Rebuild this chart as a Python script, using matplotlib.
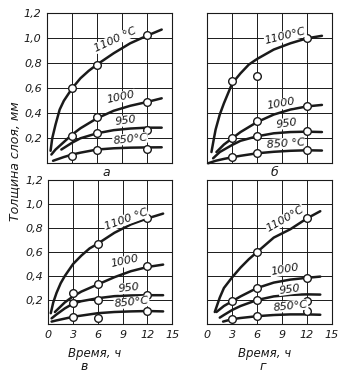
import numpy as np
import matplotlib
matplotlib.use("Agg")
import matplotlib.pyplot as plt

plt.rcParams["font.family"] = ["Liberation Sans Narrow", "DejaVu Sans"]
plt.rcParams["font.style"] = "italic"

# time, h
x_ticks = [0, 3, 6, 9, 12, 15]
y_ticks = [0.2, 0.4, 0.6, 0.8, 1.0, 1.2]

# panel "а"
a_1100_t = [0.4, 0.6, 1.0, 1.5, 2.0, 3.0, 4.0, 5.0, 6.0, 8.0, 10.0, 12.0, 13.8]
a_1100_v = [0.10, 0.20, 0.31, 0.43, 0.50, 0.60, 0.68, 0.74, 0.79, 0.88, 0.96, 1.02, 1.07]
a_1000_t = [0.5, 1.0, 2.0, 3.0, 4.0, 6.0, 8.0, 10.0, 12.0, 13.8]
a_1000_v = [0.07, 0.11, 0.17, 0.23, 0.28, 0.36, 0.42, 0.46, 0.49, 0.52]
a_950_t = [1.7, 3.0, 4.0, 6.0, 8.0, 10.0, 12.0, 13.8]
a_950_v = [0.11, 0.165, 0.20, 0.24, 0.265, 0.278, 0.285, 0.285]
a_850_t = [0.7, 2.0, 3.0, 4.0, 6.0, 8.0, 10.0, 12.0, 13.8]
a_850_v = [0.02, 0.05, 0.07, 0.085, 0.11, 0.12, 0.125, 0.127, 0.128]
a_pts_t = [3, 6, 12, 3, 6, 12, 6, 12, 3, 6, 12]
a_pts_v = [0.60, 0.79, 1.03, 0.22, 0.37, 0.49, 0.24, 0.265, 0.06, 0.11, 0.115]

# panel "б"
b_1100_t = [0.5, 0.8, 1.0, 1.5, 2.0, 3.0, 4.0, 5.0, 6.0, 8.0, 10.0, 12.0, 13.8]
b_1100_v = [0.09, 0.20, 0.27, 0.39, 0.48, 0.64, 0.72, 0.79, 0.835, 0.91, 0.96, 1.00, 1.02]
b_1000_t = [1.1, 2.0, 3.0, 4.0, 6.0, 8.0, 10.0, 12.0, 13.8]
b_1000_v = [0.09, 0.15, 0.20, 0.25, 0.33, 0.39, 0.43, 0.455, 0.467]
b_950_t = [0.7, 1.5, 3.0, 4.0, 6.0, 8.0, 10.0, 12.0, 13.8]
b_950_v = [0.04, 0.09, 0.147, 0.18, 0.216, 0.24, 0.25, 0.253, 0.25]
b_850_t = [0.1, 1.0, 2.0, 3.0, 4.0, 6.0, 8.0, 10.0, 12.0, 13.8]
b_850_v = [0.0, 0.02, 0.035, 0.048, 0.06, 0.08, 0.092, 0.10, 0.104, 0.102]
b_pts_t = [3, 6, 12, 3, 6, 12, 6, 12, 3, 6, 12]
b_pts_v = [0.66, 0.70, 1.00, 0.20, 0.34, 0.456, 0.22, 0.255, 0.05, 0.08, 0.105]

# panel "в"
c_1100_t = [0.3, 0.6, 1.0, 1.5, 2.0, 3.0, 4.0, 5.0, 6.0, 8.0, 10.0, 12.0, 13.9]
c_1100_v = [0.09, 0.18, 0.26, 0.34, 0.40, 0.50, 0.57, 0.63, 0.67, 0.76, 0.83, 0.88, 0.92]
c_1000_t = [0.8, 2.0, 3.0, 4.0, 6.0, 8.0, 10.0, 12.0, 13.9]
c_1000_v = [0.10, 0.18, 0.23, 0.27, 0.33, 0.39, 0.44, 0.475, 0.495]
c_950_t = [0.4, 1.0, 2.0, 3.0, 4.0, 6.0, 8.0, 10.0, 12.0, 13.9]
c_950_v = [0.047, 0.08, 0.13, 0.17, 0.19, 0.215, 0.232, 0.238, 0.24, 0.24]
c_850_t = [0.4, 1.0, 2.0, 3.0, 4.0, 6.0, 8.0, 10.0, 12.0, 13.9]
c_850_v = [0.02, 0.03, 0.045, 0.06, 0.07, 0.09, 0.10, 0.105, 0.108, 0.105]
c_pts_t = [6, 12, 3, 6, 12, 3, 6, 12, 3, 6, 12]
c_pts_v = [0.665, 0.88, 0.255, 0.33, 0.48, 0.178, 0.20, 0.24, 0.06, 0.053, 0.11]

# panel "г"
d_1100_t = [0.9, 1.5, 2.0, 3.0, 4.0, 5.0, 6.0, 8.0, 10.0, 12.0, 13.6]
d_1100_v = [0.10, 0.22, 0.30, 0.39, 0.47, 0.54, 0.60, 0.72, 0.79, 0.88, 0.94]
d_1000_t = [1.1, 2.0, 3.0, 4.0, 6.0, 8.0, 10.0, 12.0, 13.6]
d_1000_v = [0.10, 0.15, 0.19, 0.23, 0.30, 0.345, 0.37, 0.385, 0.395]
d_950_t = [1.5, 2.0, 3.0, 4.0, 6.0, 8.0, 10.0, 12.0, 13.6]
d_950_v = [0.053, 0.075, 0.117, 0.15, 0.20, 0.23, 0.243, 0.247, 0.245]
d_850_t = [1.9, 3.0, 4.0, 6.0, 8.0, 10.0, 12.0, 13.6]
d_850_v = [0.02, 0.04, 0.05, 0.065, 0.075, 0.08, 0.08, 0.077]
d_pts_t = [6, 12, 3, 6, 12, 6, 12, 3, 6, 12]
d_pts_v = [0.60, 0.88, 0.19, 0.30, 0.385, 0.20, 0.19, 0.04, 0.07, 0.105]

panels = [
    {
        "rect": [0.135, 0.5634, 0.3554, 0.401], "letter": "а", "bottom": False,
        "letter_x": 0.303,
        "curves": [(a_1100_t, a_1100_v), (a_1000_t, a_1000_v), (a_950_t, a_950_v), (a_850_t, a_850_v)],
        "pts": (a_pts_t, a_pts_v),
        "labels": [("1100 °C", 8.2, 0.99, 25), ("1000", 8.9, 0.53, 12),
                   ("950", 9.4, 0.34, 8), ("850°C", 10.0, 0.195, 6)],
    },
    {
        "rect": [0.5923, 0.5634, 0.356, 0.401], "letter": "б", "bottom": False,
        "letter_x": 0.783,
        "curves": [(b_1100_t, b_1100_v), (b_1000_t, b_1000_v), (b_950_t, b_950_v), (b_850_t, b_850_v)],
        "pts": (b_pts_t, b_pts_v),
        "labels": [("1100°C", 9.4, 1.016, 14), ("1000", 8.9, 0.475, 10),
                   ("950", 9.6, 0.32, 8), ("850 °C", 9.4, 0.16, 4)],
    },
    {
        "rect": [0.138, 0.1337, 0.354, 0.385], "letter": "в", "bottom": True,
        "letter_x": 0.24, "title_x": 0.27,
        "curves": [(c_1100_t, c_1100_v), (c_1000_t, c_1000_v), (c_950_t, c_950_v), (c_850_t, c_850_v)],
        "pts": (c_pts_t, c_pts_v),
        "labels": [("1100 °C", 9.4, 0.87, 20), ("1000", 9.3, 0.52, 12),
                   ("950", 9.8, 0.30, 6), ("850°C", 10.1, 0.18, 6)],
    },
    {
        "rect": [0.5923, 0.1337, 0.356, 0.385], "letter": "г", "bottom": True,
        "letter_x": 0.752, "title_x": 0.757,
        "curves": [(d_1100_t, d_1100_v), (d_1000_t, d_1000_v), (d_950_t, d_950_v), (d_850_t, d_850_v)],
        "pts": (d_pts_t, d_pts_v),
        "labels": [("1100°C", 9.4, 0.875, 30), ("1000", 9.3, 0.45, 10),
                   ("950", 9.9, 0.29, 8), ("850°C", 10.0, 0.15, 6)],
    },
]

ink = "#1a1a1a"
fig = plt.figure(figsize=(3.5, 3.74), dpi=100)

for i, p in enumerate(panels):
    ax = fig.add_axes(p["rect"])
    ax.set_xlim(0, 15)
    ax.set_ylim(0, 1.2)
    ax.set_xticks(x_ticks)
    ax.set_yticks(y_ticks)
    ax.grid(True, color=ink, linewidth=0.7)
    ax.set_axisbelow(True)
    for s in ax.spines.values():
        s.set_color(ink)
        s.set_linewidth(0.8)
    ax.tick_params(length=0, colors=ink, labelsize=8, pad=4)

    if i % 2 == 0:
        ax.set_yticklabels([f"{v:.1f}".replace(".", ",") for v in y_ticks])
    else:
        ax.set_yticklabels([])
    if p["bottom"]:
        ax.set_xticklabels([str(v) for v in x_ticks])
        fig.text(p["title_x"], 0.056, "Время, ч", fontsize=8.5, color=ink,
                 ha="center", va="center")
        fig.text(p["letter_x"], 0.019, p["letter"], fontsize=9, color=ink,
                 ha="center", va="center")
    else:
        ax.set_xticklabels([])
        fig.text(p["letter_x"], 1 - 172 / 374, p["letter"], fontsize=9,
                 color=ink, ha="center", va="center")

    for t, v in p["curves"]:
        ax.plot(t, v, color=ink, linewidth=1.8, solid_capstyle="round",
                solid_joinstyle="round", clip_on=False)
    pt, pv = p["pts"]
    ax.plot(pt, pv, "o", markersize=5.5, markerfacecolor="white",
            markeredgecolor=ink, markeredgewidth=1.0, zorder=5)

    for text, tx, ty, rot in p["labels"]:
        ax.text(tx, ty, text, fontsize=8, color=ink, rotation=rot,
                ha="center", va="center", zorder=6,
                bbox=dict(facecolor="white", edgecolor="none", pad=0.3))

fig.text(0.043, 0.57, "Толщина слоя, мм", rotation=90, fontsize=9,
         color=ink, ha="center", va="center")

fig.savefig("out.png", dpi=100, facecolor="white")
